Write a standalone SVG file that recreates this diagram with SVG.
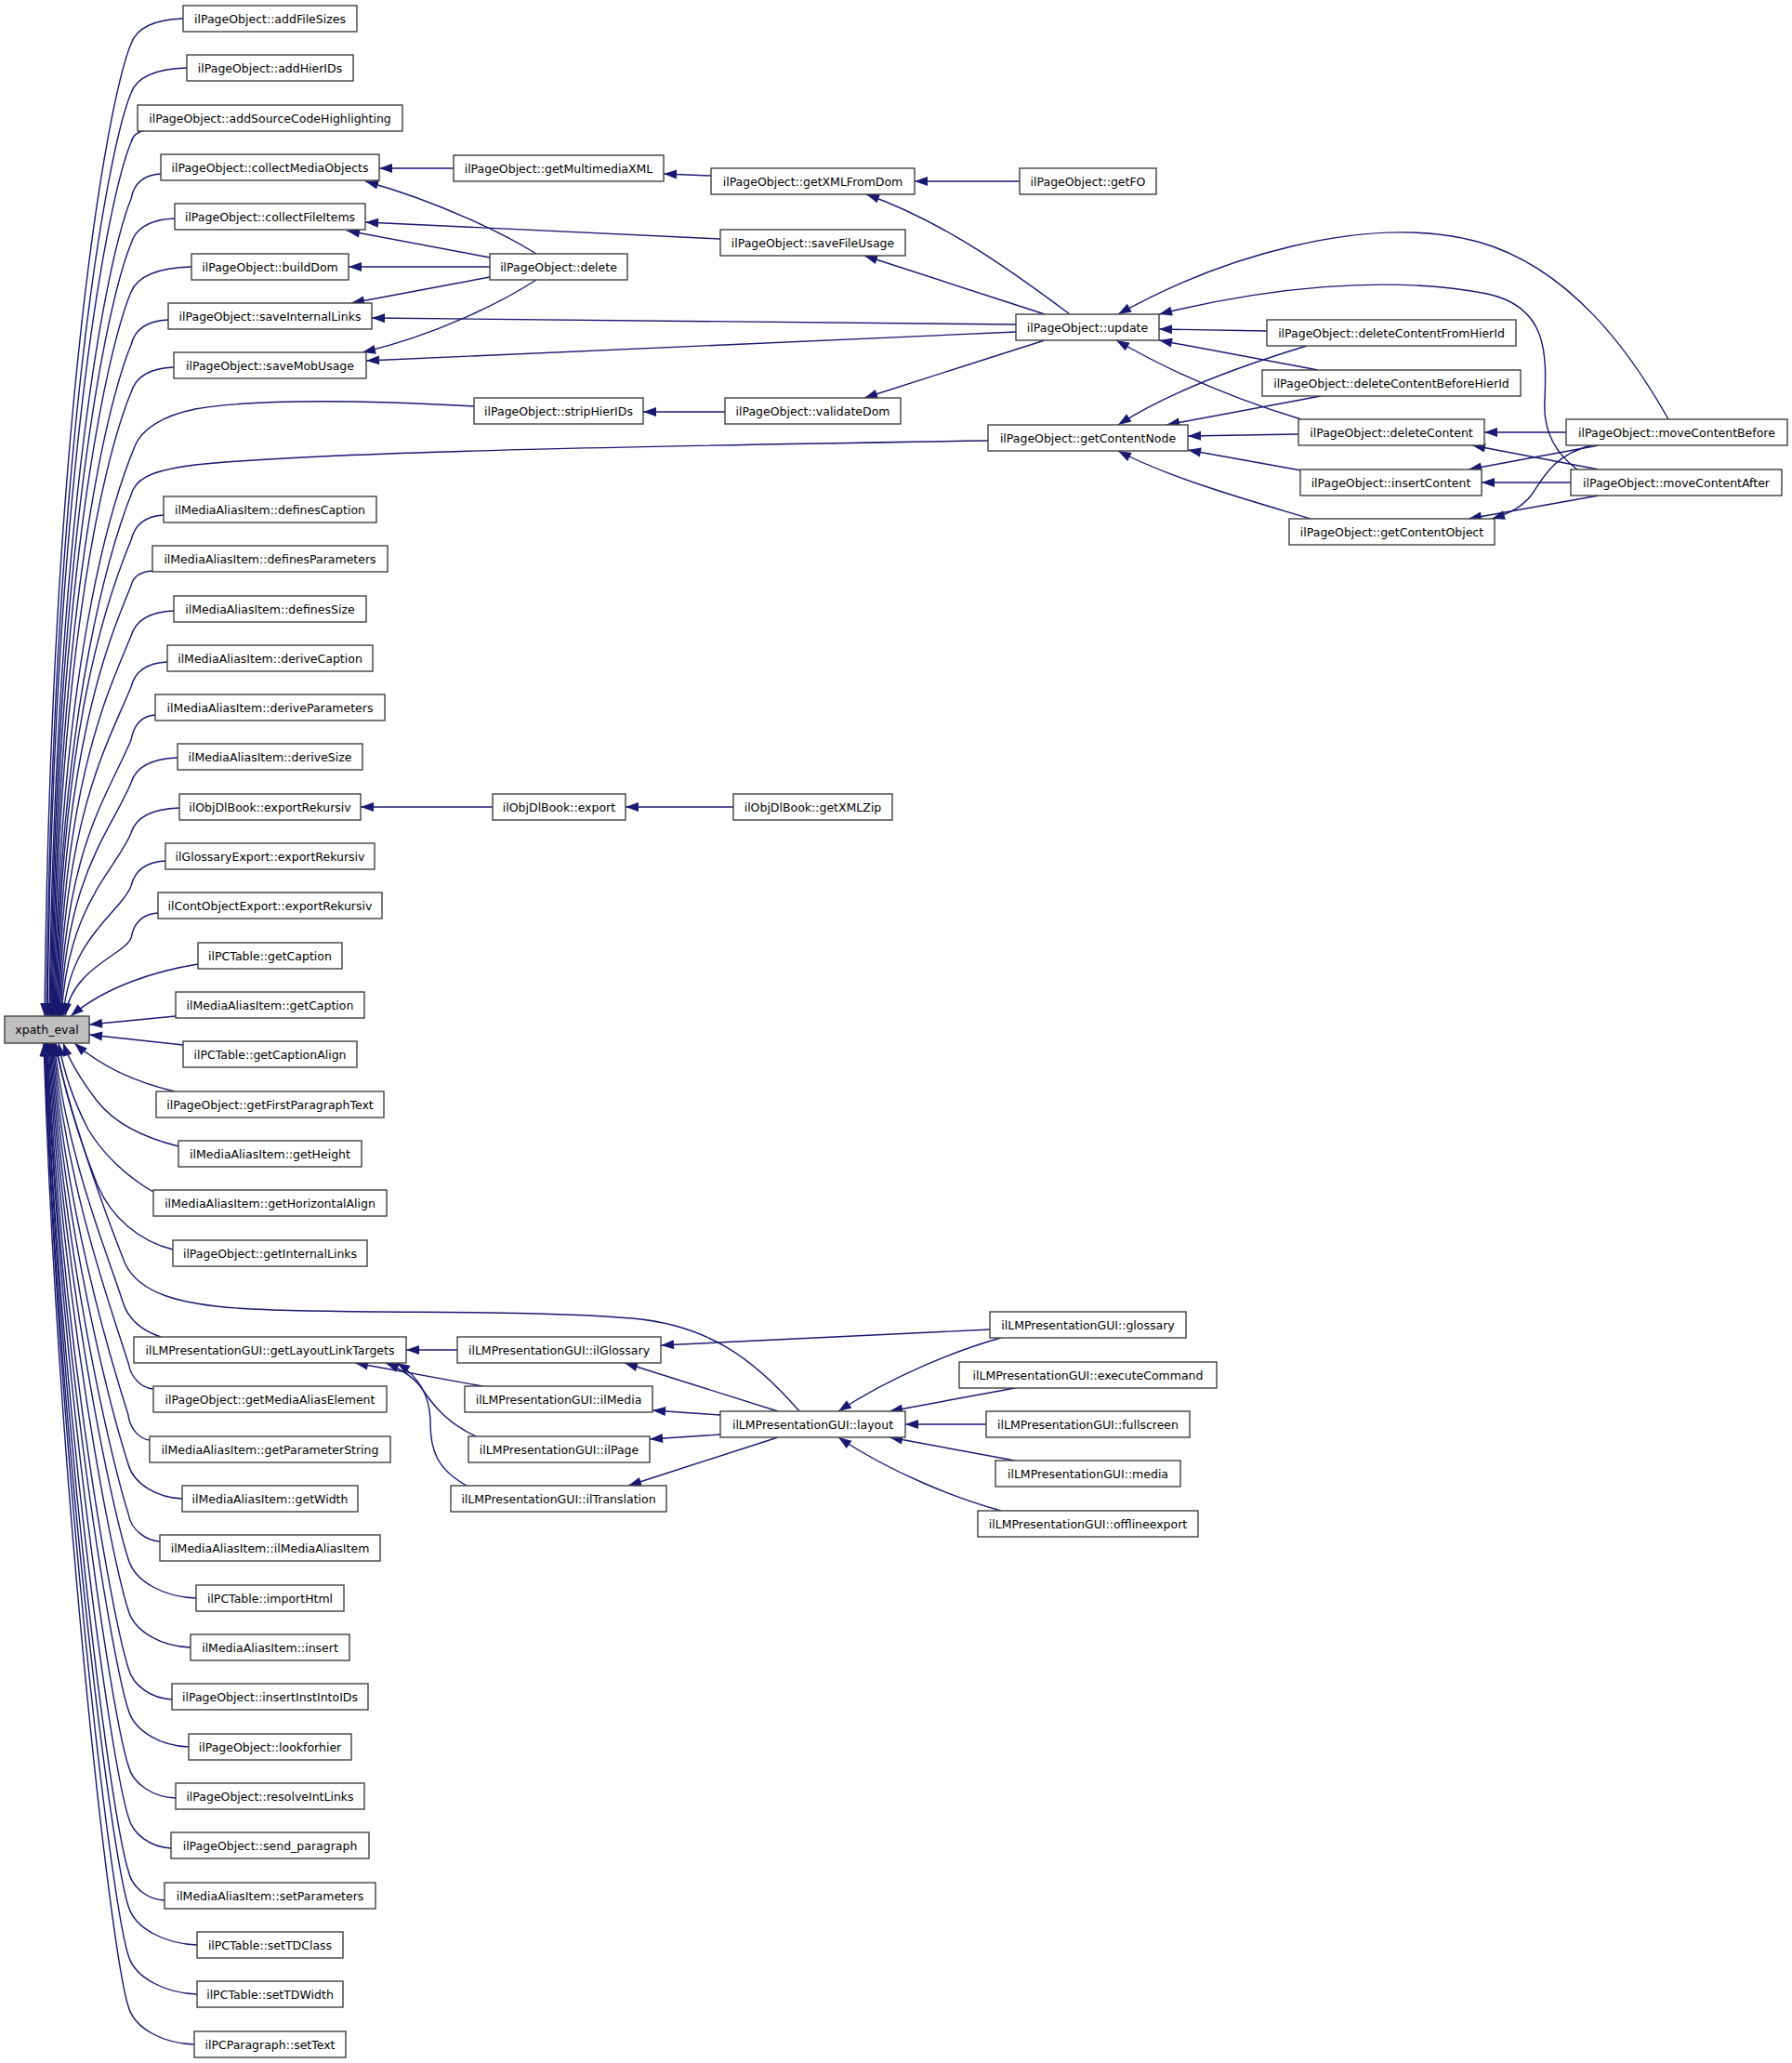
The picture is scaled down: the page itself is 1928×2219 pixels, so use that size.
<svg xmlns="http://www.w3.org/2000/svg" width="1928" height="2219" viewBox="0 0 1928 2219">
<defs>
<style>
.n rect{fill:#fff;stroke:#404040;stroke-width:1.4}
.n text{font-family:"DejaVu Sans","Liberation Sans",sans-serif;font-size:12.5px;text-anchor:middle;fill:#000}
#n_xpath_eval rect{fill:#bfbfbf}
.e path{fill:none;stroke:#191970;stroke-width:1.4;marker-end:url(#a)}
</style>
<marker id="a" markerUnits="userSpaceOnUse" markerWidth="16" markerHeight="12" refX="14" refY="5" orient="auto" overflow="visible">
<path d="M0,0 L14,5 L0,10 z" fill="#191970"/>
</marker>
</defs>
<rect width="1928" height="2219" fill="#fff"/>
<g id="connectors" class="e">
<path d="M197,20 c-31,1 -50,10 -56,27 C115,110 55,450 48,1093"/>
<path d="M201,73 c-33,1 -54,10 -60,27 C115,163 57,482 50,1093"/>
<path d="M158,140 c-9,1 -15,5 -17,13 C115,216 58,515 51,1093"/>
<path d="M173,187 c-18,1 -29,10 -32,27 C115,277 60,552 53,1093"/>
<path d="M188,235 c-26,1 -42,10 -47,27 C115,325 61,582 54,1093"/>
<path d="M206,287 c-36,1 -58,10 -65,27 C115,377 62,613 55,1093"/>
<path d="M181,344 c-22,1 -36,10 -40,27 C115,434 63,649 56,1093"/>
<path d="M187,395 c-25,1 -41,10 -46,27 C115,485 64,680 57,1093"/>
<path d="M510,437 C400,431 280,428 210,440 C175,447 152,462 145,480 C119,543 65,716 58,1093"/>
<path d="M1063,474 C800,478 350,485 210,500 C170,505 150,512 143,527 C123,577 66,745 59,1093"/>
<path d="M176,554 c-19,1 -31,10 -35,27 C115,644 67,778 60,1093"/>
<path d="M164,614 c-13,1 -21,6 -23,16 C115,693 68,808 61,1093"/>
<path d="M187,657 c-25,1 -41,10 -46,27 C115,747 69,841 62,1093"/>
<path d="M180,712 c-21,1 -35,10 -39,27 C115,802 70,875 63,1093"/>
<path d="M167,769 c-14,1 -23,10 -26,27 C115,858 71,910 64,1093"/>
<path d="M191,815 c-27,1 -45,10 -50,27 C119,895 72,939 65,1093"/>
<path d="M193,869 c-29,1 -47,10 -52,27 C124,937 73,972 66,1093"/>
<path d="M178,926 c-20,1 -33,10 -37,27 C129,983 75,1007 68,1093"/>
<path d="M170,982 c-16,1 -26,10 -29,27 C134,1027 77,1041 70,1093"/>
<path d="M213,1037 C170,1044 115,1060 76,1093"/>
<path d="M189,1093 L96,1102"/>
<path d="M197,1124 L96,1113"/>
<path d="M188,1174 C150,1165 110,1148 80,1122"/>
<path d="M192,1233 C160,1225 125,1210 105,1185 C92,1168 76,1145 68,1122"/>
<path d="M165,1282 C135,1265 110,1240 95,1215 C82,1190 70,1160 63,1122"/>
<path d="M186,1344 C150,1335 120,1310 105,1275 C88,1232 70,1180 60,1122"/>
<path d="M860,1518 C810,1460 760,1425 680,1418 C560,1408 400,1414 270,1408 C190,1404 150,1390 135,1360 C115,1310 75,1200 59,1122"/>
<path d="M173,1438 C155,1432 138,1420 132,1400 C113,1341 73,1247 58,1122"/>
<path d="M165,1494 c-12,-1 -24,-11 -27,-28 C118,1403 72,1277 57,1122"/>
<path d="M161,1549 c-10,-1 -21,-11 -23,-27 C118,1459 71,1302 56,1122"/>
<path d="M196,1612 c-26,-1 -52,-15 -58,-37 C118,1512 70,1326 55,1122"/>
<path d="M172,1658 c-15,-1 -31,-12 -34,-30 C118,1565 69,1350 54,1122"/>
<path d="M211,1719 c-33,-1 -66,-17 -73,-42 C118,1614 68,1372 53,1122"/>
<path d="M205,1772 c-30,-1 -60,-16 -67,-40 C118,1669 67,1396 52,1122"/>
<path d="M185,1828 c-21,-1 -42,-14 -47,-34 C118,1731 66,1424 51,1122"/>
<path d="M203,1879 c-29,-1 -58,-16 -65,-40 C118,1776 65,1445 50,1122"/>
<path d="M189,1934 c-23,-1 -46,-14 -51,-35 C118,1836 65,1472 50,1122"/>
<path d="M184,1988 c-21,-1 -41,-14 -46,-34 C118,1891 64,1496 49,1122"/>
<path d="M177,2044 c-18,-1 -35,-13 -39,-32 C118,1949 64,1522 49,1122"/>
<path d="M212,2092 c-33,-1 -67,-17 -74,-42 C118,1987 63,1540 48,1122"/>
<path d="M212,2145 c-33,-1 -67,-17 -74,-42 C118,2040 63,1563 48,1122"/>
<path d="M209,2199 c-32,-1 -64,-16 -71,-41 C118,2095 62,1588 47,1122"/>
<path d="M488,181 L408,181"/>
<path d="M577,273 C545,253 475,218 393,195"/>
<path d="M527,277 L373,248"/>
<path d="M775,257 L393,239"/>
<path d="M527,287 L375,287"/>
<path d="M527,298 L378,326"/>
<path d="M1093,349 L400,342"/>
<path d="M577,301 C540,325 470,360 390,379"/>
<path d="M1093,357 L394,388"/>
<path d="M765,189 L714,187"/>
<path d="M1097,195 L984,195"/>
<path d="M1151,338 C1100,300 1020,240 932,209"/>
<path d="M1124,338 L930,275"/>
<path d="M1124,366 L930,428"/>
<path d="M780,443 L692,443"/>
<path d="M1795,451 C1755,380 1690,288 1590,260 C1470,228 1310,278 1203,338"/>
<path d="M1697,505 C1670,485 1660,460 1662,430 C1664,380 1665,330 1600,316 C1490,295 1360,310 1247,338"/>
<path d="M1363,356 L1247,354"/>
<path d="M1418,398 L1247,366"/>
<path d="M1400,451 C1330,430 1260,400 1201,366"/>
<path d="M1406,372 C1340,392 1260,420 1203,457"/>
<path d="M1421,426 L1255,457"/>
<path d="M1397,467 L1278,469"/>
<path d="M1400,506 L1278,484"/>
<path d="M1410,558 C1350,540 1260,515 1203,485"/>
<path d="M1685,465 L1597,465"/>
<path d="M1720,505 L1584,479"/>
<path d="M1720,479 L1580,505"/>
<path d="M1690,519 L1594,519"/>
<path d="M1712,479 C1670,490 1660,515 1648,532 C1638,545 1625,552 1605,558"/>
<path d="M1720,533 L1580,558"/>
<path d="M530,868 L388,868"/>
<path d="M789,868 L673,868"/>
<path d="M492,1452 L437,1452"/>
<path d="M519,1491 L382,1466"/>
<path d="M512,1545 C480,1530 465,1510 455,1495 C445,1480 430,1472 415,1466"/>
<path d="M502,1598 C470,1580 463,1560 463,1530 C463,1500 450,1480 427,1466"/>
<path d="M1065,1430 L711,1447"/>
<path d="M837,1518 L672,1466"/>
<path d="M775,1522 L702,1517"/>
<path d="M775,1543 L699,1548"/>
<path d="M837,1546 L676,1598"/>
<path d="M1077,1439 C1030,1452 960,1480 902,1518"/>
<path d="M1092,1493 L957,1518"/>
<path d="M1061,1532 L974,1532"/>
<path d="M1092,1571 L957,1546"/>
<path d="M1077,1625 C1030,1612 960,1585 902,1546"/>
</g>
<g id="n_xpath_eval" class="n"><rect x="5" y="1093" width="91" height="29"/><text x="50.5" y="1112">xpath_eval</text></g>
<g id="n_addFileSizes" class="n"><rect x="197" y="6" width="187" height="28"/><text x="290.5" y="24.5">ilPageObject::addFileSizes</text></g>
<g id="n_addHierIDs" class="n"><rect x="201" y="59" width="179" height="28"/><text x="290.5" y="77.5">ilPageObject::addHierIDs</text></g>
<g id="n_addSourceCodeHighlighting" class="n"><rect x="148" y="113" width="285" height="28"/><text x="290.5" y="131.5">ilPageObject::addSourceCodeHighlighting</text></g>
<g id="n_collectMediaObjects" class="n"><rect x="173" y="166" width="235" height="28"/><text x="290.5" y="184.5">ilPageObject::collectMediaObjects</text></g>
<g id="n_collectFileItems" class="n"><rect x="188" y="219" width="205" height="28"/><text x="290.5" y="237.5">ilPageObject::collectFileItems</text></g>
<g id="n_buildDom" class="n"><rect x="206" y="273" width="169" height="28"/><text x="290.5" y="291.5">ilPageObject::buildDom</text></g>
<g id="n_saveInternalLinks" class="n"><rect x="181" y="326" width="219" height="28"/><text x="290.5" y="344.5">ilPageObject::saveInternalLinks</text></g>
<g id="n_saveMobUsage" class="n"><rect x="187" y="379" width="207" height="28"/><text x="290.5" y="397.5">ilPageObject::saveMobUsage</text></g>
<g id="n_definesCaption" class="n"><rect x="176" y="534" width="229" height="28"/><text x="290.5" y="552.5">ilMediaAliasItem::definesCaption</text></g>
<g id="n_definesParameters" class="n"><rect x="164" y="587" width="253" height="28"/><text x="290.5" y="605.5">ilMediaAliasItem::definesParameters</text></g>
<g id="n_definesSize" class="n"><rect x="187" y="641" width="207" height="28"/><text x="290.5" y="659.5">ilMediaAliasItem::definesSize</text></g>
<g id="n_deriveCaption" class="n"><rect x="180" y="694" width="221" height="28"/><text x="290.5" y="712.5">ilMediaAliasItem::deriveCaption</text></g>
<g id="n_deriveParameters" class="n"><rect x="167" y="747" width="247" height="28"/><text x="290.5" y="765.5">ilMediaAliasItem::deriveParameters</text></g>
<g id="n_deriveSize" class="n"><rect x="191" y="800" width="199" height="28"/><text x="290.5" y="818.5">ilMediaAliasItem::deriveSize</text></g>
<g id="n_objdl_exportRekursiv" class="n"><rect x="193" y="854" width="195" height="28"/><text x="290.5" y="872.5">ilObjDlBook::exportRekursiv</text></g>
<g id="n_glossary_exportRekursiv" class="n"><rect x="178" y="907" width="225" height="28"/><text x="290.5" y="925.5">ilGlossaryExport::exportRekursiv</text></g>
<g id="n_contobject_exportRekursiv" class="n"><rect x="170" y="960" width="241" height="28"/><text x="290.5" y="978.5">ilContObjectExport::exportRekursiv</text></g>
<g id="n_pctable_getCaption" class="n"><rect x="213" y="1014" width="155" height="28"/><text x="290.5" y="1032.5">ilPCTable::getCaption</text></g>
<g id="n_mai_getCaption" class="n"><rect x="189" y="1067" width="203" height="28"/><text x="290.5" y="1085.5">ilMediaAliasItem::getCaption</text></g>
<g id="n_getCaptionAlign" class="n"><rect x="197" y="1120" width="187" height="28"/><text x="290.5" y="1138.5">ilPCTable::getCaptionAlign</text></g>
<g id="n_getFirstParagraphText" class="n"><rect x="168" y="1174" width="245" height="28"/><text x="290.5" y="1192.5">ilPageObject::getFirstParagraphText</text></g>
<g id="n_getHeight" class="n"><rect x="192" y="1227" width="197" height="28"/><text x="290.5" y="1245.5">ilMediaAliasItem::getHeight</text></g>
<g id="n_getHorizontalAlign" class="n"><rect x="165" y="1280" width="251" height="28"/><text x="290.5" y="1298.5">ilMediaAliasItem::getHorizontalAlign</text></g>
<g id="n_getInternalLinks" class="n"><rect x="186" y="1334" width="209" height="28"/><text x="290.5" y="1352.5">ilPageObject::getInternalLinks</text></g>
<g id="n_getLayoutLinkTargets" class="n"><rect x="144" y="1438" width="293" height="28"/><text x="290.5" y="1456.5">ilLMPresentationGUI::getLayoutLinkTargets</text></g>
<g id="n_getMediaAliasElement" class="n"><rect x="165" y="1491" width="251" height="28"/><text x="290.5" y="1509.5">ilPageObject::getMediaAliasElement</text></g>
<g id="n_getParameterString" class="n"><rect x="161" y="1545" width="259" height="28"/><text x="290.5" y="1563.5">ilMediaAliasItem::getParameterString</text></g>
<g id="n_getWidth" class="n"><rect x="196" y="1598" width="189" height="28"/><text x="290.5" y="1616.5">ilMediaAliasItem::getWidth</text></g>
<g id="n_ilMediaAliasItem" class="n"><rect x="172" y="1651" width="237" height="28"/><text x="290.5" y="1669.5">ilMediaAliasItem::ilMediaAliasItem</text></g>
<g id="n_importHtml" class="n"><rect x="211" y="1705" width="159" height="28"/><text x="290.5" y="1723.5">ilPCTable::importHtml</text></g>
<g id="n_insert" class="n"><rect x="205" y="1758" width="171" height="28"/><text x="290.5" y="1776.5">ilMediaAliasItem::insert</text></g>
<g id="n_insertInstIntoIDs" class="n"><rect x="185" y="1811" width="211" height="28"/><text x="290.5" y="1829.5">ilPageObject::insertInstIntoIDs</text></g>
<g id="n_lookforhier" class="n"><rect x="203" y="1865" width="175" height="28"/><text x="290.5" y="1883.5">ilPageObject::lookforhier</text></g>
<g id="n_resolveIntLinks" class="n"><rect x="189" y="1918" width="203" height="28"/><text x="290.5" y="1936.5">ilPageObject::resolveIntLinks</text></g>
<g id="n_send_paragraph" class="n"><rect x="184" y="1971" width="213" height="28"/><text x="290.5" y="1989.5">ilPageObject::send_paragraph</text></g>
<g id="n_setParameters" class="n"><rect x="177" y="2025" width="227" height="28"/><text x="290.5" y="2043.5">ilMediaAliasItem::setParameters</text></g>
<g id="n_setTDClass" class="n"><rect x="212" y="2078" width="157" height="28"/><text x="290.5" y="2096.5">ilPCTable::setTDClass</text></g>
<g id="n_setTDWidth" class="n"><rect x="212" y="2131" width="157" height="28"/><text x="290.5" y="2149.5">ilPCTable::setTDWidth</text></g>
<g id="n_setText" class="n"><rect x="209" y="2185" width="163" height="28"/><text x="290.5" y="2203.5">ilPCParagraph::setText</text></g>
<g id="n_getMultimediaXML" class="n"><rect x="488" y="167" width="226" height="28"/><text x="601" y="185.5">ilPageObject::getMultimediaXML</text></g>
<g id="n_getXMLFromDom" class="n"><rect x="765" y="181" width="219" height="28"/><text x="874.5" y="199.5">ilPageObject::getXMLFromDom</text></g>
<g id="n_getFO" class="n"><rect x="1097" y="181" width="147" height="28"/><text x="1170.5" y="199.5">ilPageObject::getFO</text></g>
<g id="n_saveFileUsage" class="n"><rect x="775" y="247" width="199" height="28"/><text x="874.5" y="265.5">ilPageObject::saveFileUsage</text></g>
<g id="n_delete" class="n"><rect x="527" y="273" width="148" height="28"/><text x="601" y="291.5">ilPageObject::delete</text></g>
<g id="n_update" class="n"><rect x="1093" y="338" width="154" height="28"/><text x="1170" y="356.5">ilPageObject::update</text></g>
<g id="n_stripHierIDs" class="n"><rect x="510" y="428" width="182" height="28"/><text x="601" y="446.5">ilPageObject::stripHierIDs</text></g>
<g id="n_validateDom" class="n"><rect x="780" y="428" width="189" height="28"/><text x="874.5" y="446.5">ilPageObject::validateDom</text></g>
<g id="n_getContentNode" class="n"><rect x="1063" y="457" width="215" height="28"/><text x="1170.5" y="475.5">ilPageObject::getContentNode</text></g>
<g id="n_deleteContentFromHierId" class="n"><rect x="1363" y="344" width="268" height="28"/><text x="1497" y="362.5">ilPageObject::deleteContentFromHierId</text></g>
<g id="n_deleteContentBeforeHierId" class="n"><rect x="1358" y="398" width="278" height="28"/><text x="1497" y="416.5">ilPageObject::deleteContentBeforeHierId</text></g>
<g id="n_deleteContent" class="n"><rect x="1397" y="451" width="200" height="28"/><text x="1497" y="469.5">ilPageObject::deleteContent</text></g>
<g id="n_insertContent" class="n"><rect x="1399" y="505" width="195" height="28"/><text x="1496.5" y="523.5">ilPageObject::insertContent</text></g>
<g id="n_getContentObject" class="n"><rect x="1387" y="558" width="221" height="28"/><text x="1497.5" y="576.5">ilPageObject::getContentObject</text></g>
<g id="n_moveContentBefore" class="n"><rect x="1685" y="451" width="238" height="28"/><text x="1804" y="469.5">ilPageObject::moveContentBefore</text></g>
<g id="n_moveContentAfter" class="n"><rect x="1690" y="505" width="227" height="28"/><text x="1803.5" y="523.5">ilPageObject::moveContentAfter</text></g>
<g id="n_export" class="n"><rect x="530" y="854" width="143" height="28"/><text x="601.5" y="872.5">ilObjDlBook::export</text></g>
<g id="n_getXMLZip" class="n"><rect x="789" y="854" width="171" height="28"/><text x="874.5" y="872.5">ilObjDlBook::getXMLZip</text></g>
<g id="n_ilGlossary" class="n"><rect x="492" y="1438" width="219" height="28"/><text x="601.5" y="1456.5">ilLMPresentationGUI::ilGlossary</text></g>
<g id="n_ilMedia" class="n"><rect x="500" y="1491" width="202" height="28"/><text x="601" y="1509.5">ilLMPresentationGUI::ilMedia</text></g>
<g id="n_ilPage" class="n"><rect x="504" y="1545" width="195" height="28"/><text x="601.5" y="1563.5">ilLMPresentationGUI::ilPage</text></g>
<g id="n_ilTranslation" class="n"><rect x="485" y="1598" width="232" height="28"/><text x="601" y="1616.5">ilLMPresentationGUI::ilTranslation</text></g>
<g id="n_layout" class="n"><rect x="775" y="1518" width="199" height="28"/><text x="874.5" y="1536.5">ilLMPresentationGUI::layout</text></g>
<g id="n_glossary" class="n"><rect x="1065" y="1411" width="211" height="28"/><text x="1170.5" y="1429.5">ilLMPresentationGUI::glossary</text></g>
<g id="n_executeCommand" class="n"><rect x="1032" y="1465" width="277" height="28"/><text x="1170.5" y="1483.5">ilLMPresentationGUI::executeCommand</text></g>
<g id="n_fullscreen" class="n"><rect x="1061" y="1518" width="219" height="28"/><text x="1170.5" y="1536.5">ilLMPresentationGUI::fullscreen</text></g>
<g id="n_media" class="n"><rect x="1071" y="1571" width="199" height="28"/><text x="1170.5" y="1589.5">ilLMPresentationGUI::media</text></g>
<g id="n_offlineexport" class="n"><rect x="1052" y="1625" width="237" height="28"/><text x="1170.5" y="1643.5">ilLMPresentationGUI::offlineexport</text></g>
</svg>
